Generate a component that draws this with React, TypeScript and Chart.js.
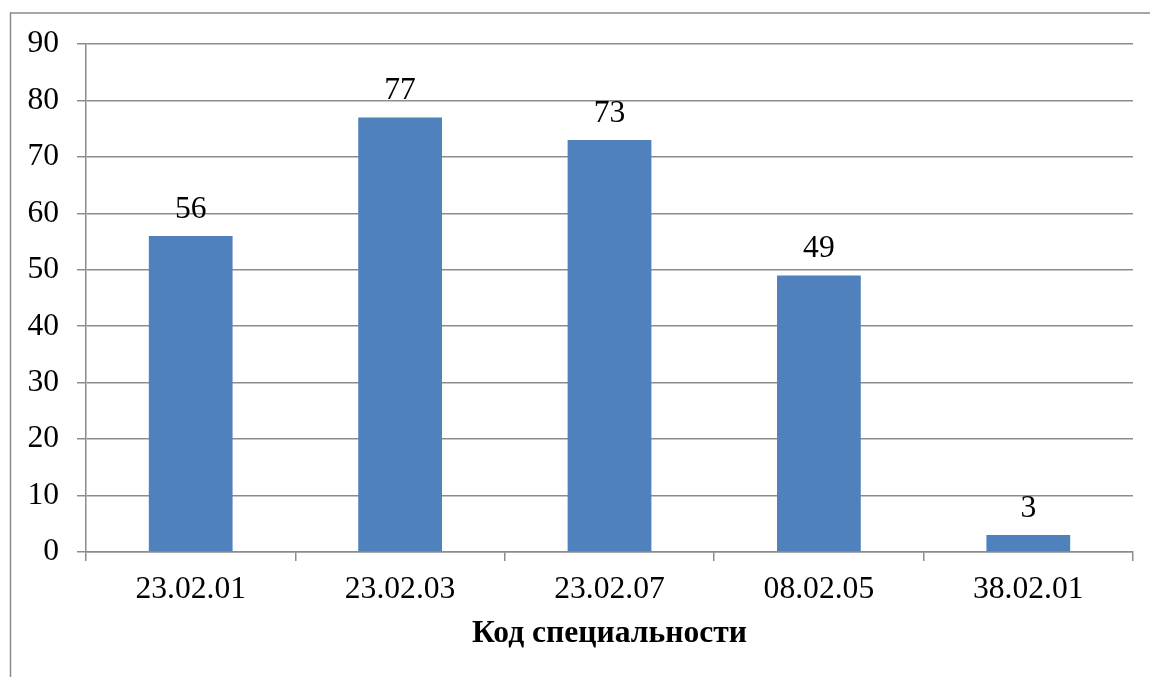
import React, { useEffect, useRef } from "react";
import { Chart, registerables } from "chart.js";

Chart.register(...registerables);

const categories = ["23.02.01", "23.02.03", "23.02.07", "08.02.05", "38.02.01"];
const values = [56, 77, 73, 49, 3];
const yTicks = [0, 10, 20, 30, 40, 50, 60, 70, 80, 90];
const xTitle = "Код специальности";

const FONT = '"Liberation Serif", "Times New Roman", serif';
const FS = 31.6;
const GRID = "#8c8c8c";

const frame = {
  id: "frame",
  beforeDraw(chart: any) {
    const ctx = chart.ctx;
    ctx.save();
    ctx.fillStyle = "#ffffff";
    ctx.fillRect(0, 0, chart.width, chart.height);
    ctx.strokeStyle = "#8a8a8a";
    ctx.lineWidth = 1.5;
    ctx.strokeRect(10.5, 13, 1300, 900);
    ctx.restore();
  },
};

const valueLabels = {
  id: "valueLabels",
  afterDatasetsDraw(chart: any) {
    const ctx = chart.ctx;
    const meta = chart.getDatasetMeta(0);
    ctx.save();
    ctx.font = `${FS}px ${FONT}`;
    ctx.fillStyle = "#000000";
    ctx.textAlign = "center";
    ctx.textBaseline = "alphabetic";
    meta.data.forEach((bar: any, i: number) => {
      ctx.fillText(String(values[i]), bar.x, bar.y - 18);
    });
    ctx.restore();
  },
};

export default function App() {
  const ref = useRef<HTMLCanvasElement | null>(null);
  useEffect(() => {
    if (!ref.current) return;
    const chart = new Chart(ref.current, {
      type: "bar",
      data: {
        labels: categories,
        datasets: [
          {
            data: values,
            backgroundColor: "#4f81bd",
            borderWidth: 0,
            categoryPercentage: 0.4,
            barPercentage: 1,
          },
        ],
      },
      options: {
        animation: false,
        responsive: false,
        maintainAspectRatio: false,
        layout: { padding: { top: 44, right: 17, left: 0, bottom: 0 } },
        plugins: { legend: { display: false }, tooltip: { enabled: false } },
        scales: {
          x: {
            grid: {
              display: true,
              drawOnChartArea: false,
              drawTicks: true,
              tickLength: 9,
              color: GRID,
              lineWidth: 1.5,
              offset: true,
            },
            border: { display: true, color: GRID, width: 1.5 },
            ticks: {
              color: "#000000",
              font: { family: FONT, size: FS },
              padding: 10,
              maxRotation: 0,
            },
            title: {
              display: true,
              text: xTitle,
              color: "#000000",
              font: { family: FONT, size: FS, weight: "bold" },
              padding: { top: 0, bottom: 24 },
            },
            afterFit(scale: any) {
              scale.height = 125;
            },
          },
          y: {
            min: 0,
            max: 90,
            afterBuildTicks(scale: any) {
              scale.ticks = yTicks.map((v) => ({ value: v }));
            },
            grid: {
              color: GRID,
              lineWidth: 1.5,
              tickLength: 9,
              drawTicks: true,
            },
            border: { display: true, color: GRID, width: 1.5 },
            ticks: {
              color: "#000000",
              font: { family: FONT, size: FS },
              padding: 18,
            },
            afterFit(scale: any) {
              scale.width = 86;
            },
          },
        },
      },
      plugins: [frame, valueLabels],
    } as any);
    return () => chart.destroy();
  }, []);
  return (
    <div style={{ position: "absolute", left: 0, top: 0, width: 1150, height: 677 }}>
      <canvas ref={ref} width={1150} height={677} style={{ display: "block" }} />
    </div>
  );
}
